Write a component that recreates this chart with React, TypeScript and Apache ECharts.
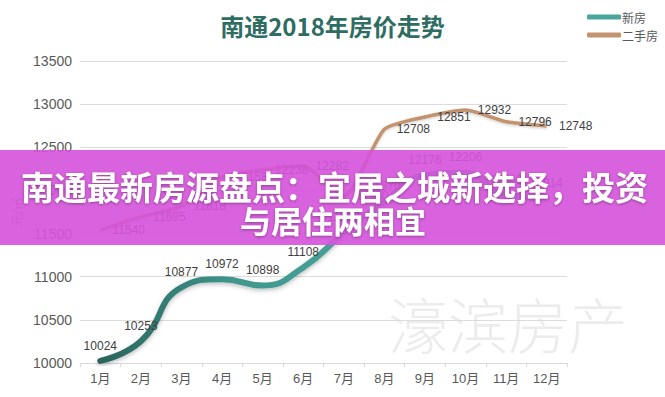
import React, { useEffect, useRef } from "react";
import * as echarts from "echarts";

const months = ["1月", "2月", "3月", "4月", "5月", "6月", "7月", "8月", "9月", "10月", "11月", "12月"];
const newHouse = [10024, 10253, 10877, 10972, 10898, 11108, 11510, 11870, 12176, 12206, 11940, 11914];
const secondHand = [11540, 11695, 11818, 12158, 12238, 12282, 11930, 12708, 12851, 12932, 12796, 12748];
const titleText = "南通2018年房价走势";
const bannerLine1 = "南通最新房源盘点：宜居之城新选择，投资";
const bannerLine2 = "与居住两相宜";
const watermark = "濠滨房产";

const CJK = "'Noto Sans CJK SC', 'Noto Sans', sans-serif";
const NUM = "'Liberation Sans Narrow', 'Liberation Sans', 'Noto Sans CJK SC', sans-serif";

export default function App() {
  const ref = useRef<HTMLDivElement>(null);
  useEffect(() => {
    if (!ref.current) return;
    const chart = echarts.init(ref.current, null, { renderer: "svg" });
    chart.setOption({
      animation: false,
      backgroundColor: "#ffffff",
      title: {
        text: titleText,
        left: "center",
        top: 8,
        textStyle: { fontSize: 24, fontWeight: "bold", color: "#2f6d62", fontFamily: CJK },
      },
      legend: {
        orient: "vertical",
        left: 582,
        top: 6,
        itemWidth: 34,
        itemHeight: 5,
        itemGap: 6,
        icon: "roundRect",
        textStyle: { fontSize: 12, color: "#595959", fontFamily: CJK, padding: [0, 0, 0, -4] },
        data: [
          { name: "新房", itemStyle: { color: "#4aa69d" } },
          { name: "二手房", itemStyle: { color: "#c39370" } },
        ],
      },
      grid: { left: 80, right: 98, top: 61, bottom: 34 },
      xAxis: {
        type: "category",
        data: months,
        boundaryGap: true,
        axisLine: { lineStyle: { color: "#d9d9d9" } },
        axisTick: { show: true, length: 4, lineStyle: { color: "#d9d9d9" } },
        axisLabel: { color: "#595959", fontSize: 13, margin: 9, fontFamily: NUM },
      },
      yAxis: {
        type: "value",
        min: 10000,
        max: 13500,
        interval: 500,
        name: "元/㎡",
        nameLocation: "middle",
        nameGap: 54,
        nameRotate: 90,
        nameTextStyle: { color: "#7f7f7f", fontSize: 12, fontFamily: CJK },
        axisLine: { show: false },
        axisTick: { show: false },
        axisLabel: {
          color: "#595959",
          fontSize: 14,
          margin: 8,
          fontFamily: NUM,
          formatter: (v: number) => String(v),
        },
        splitLine: { lineStyle: { color: "#dcdcdc", width: 1 } },
      },
      graphic: [
        {
          type: "text",
          left: 388,
          top: 292,
          z: 0,
          style: {
            text: watermark,
            fontSize: 60,
            fontWeight: 300,
            fontFamily: CJK,
            fill: "#ececec",
          },
        },
        {
          type: "rect",
          z: 100,
          shape: { x: 0, y: 150, width: 665, height: 95 },
          style: { fill: "rgba(213, 84, 219, 0.91)" },
        },
        {
          type: "text",
          z: 101,
          x: 21,
          y: 186,
          style: {
            text: bannerLine1,
            align: "left",
            verticalAlign: "middle",
            fontSize: 33,
            fontWeight: "bold",
            fontFamily: CJK,
            fill: "#ffffff",
            textShadowColor: "rgba(0,0,0,0.35)",
            textShadowBlur: 3,
            textShadowOffsetY: 1,
          },
        },
        {
          type: "text",
          z: 101,
          x: 333,
          y: 219,
          style: {
            text: bannerLine2,
            align: "center",
            verticalAlign: "middle",
            fontSize: 31,
            fontWeight: "bold",
            fontFamily: CJK,
            fill: "#ffffff",
            textShadowColor: "rgba(0,0,0,0.35)",
            textShadowBlur: 3,
            textShadowOffsetY: 1,
          },
        },
      ],
      series: [
        {
          name: "新房",
          type: "line",
          data: newHouse,
          smooth: 0.5,
          symbol: "circle",
          symbolSize: 0.5,
          itemStyle: { color: "#4aa69d" },
          lineStyle: {
            width: 6,
            cap: "round",
            color: {
              type: "linear",
              x: 0,
              y: 0,
              x2: 1,
              y2: 0,
              colorStops: [
                { offset: 0, color: "#2a645a" },
                { offset: 0.3, color: "#3f968d" },
                { offset: 1, color: "#55b6ae" },
              ],
            },
            shadowColor: "rgba(0,0,0,0.25)",
            shadowBlur: 4,
            shadowOffsetY: 2,
          },
          label: {
            show: true,
            position: "top",
            distance: 9,
            color: "#404040",
            fontSize: 12,
            fontFamily: NUM,
          },
        },
        {
          name: "二手房",
          type: "line",
          data: secondHand,
          smooth: 0.2,
          symbol: "circle",
          symbolSize: 0.5,
          itemStyle: { color: "#c39370" },
          lineStyle: {
            width: 3.5,
            color: "#c39370",
            shadowColor: "rgba(0,0,0,0.2)",
            shadowBlur: 3,
            shadowOffsetY: 1,
          },
          label: {
            show: true,
            position: "right",
            distance: 12,
            color: "#404040",
            fontSize: 12,
            fontFamily: NUM,
          },
        },
      ],
    });
    return () => chart.dispose();
  }, []);
  return (
    <div
      ref={ref}
      style={{ position: "fixed", left: 0, top: 0, width: 665, height: 397 }}
    />
  );
}
